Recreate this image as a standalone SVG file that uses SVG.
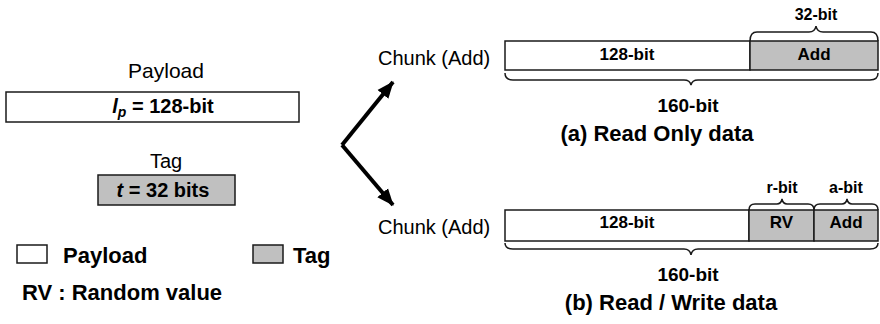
<svg xmlns="http://www.w3.org/2000/svg" width="880" height="324" viewBox="0 0 880 324">
<style>
text{font-family:"Liberation Sans",Arial,sans-serif;fill:#000}
.reg{font-size:20px}
.bx{font-size:17px;font-weight:bold}
.sm{font-size:16px;font-weight:bold}
.dim{font-size:19px;font-weight:bold}
.cap{font-size:22px;font-weight:bold}
.leg{font-size:22px;font-weight:bold}
.mid{text-anchor:middle}
.w{fill:#fff;stroke:#1a1a1a;stroke-width:1.5}
.g{fill:#c0c0c0;stroke:#1a1a1a;stroke-width:1.5}
.br{fill:none;stroke:#1a1a1a;stroke-width:1.5}
.arr{fill:none;stroke:#000;stroke-width:4}
</style>
<defs>
<marker id="ah" markerUnits="userSpaceOnUse" markerWidth="18" markerHeight="16" refX="16" refY="8" orient="auto">
<path d="M0,1 L17,8 L0,15 Z" fill="#000"/>
</marker>
</defs>

<g id="payload">
<text class="reg mid" x="166" y="78" style="font-size:21px">Payload</text>
<rect class="w" x="6" y="92" width="293" height="30"/>
<text class="mid" x="163" y="113" style="font-size:20px;font-weight:bold"><tspan font-style="italic">l</tspan><tspan font-style="italic" font-size="14" dy="4">p</tspan><tspan dy="-4"> = 128-bit</tspan></text>
</g>

<g id="tag">
<text class="reg mid" x="166" y="168">Tag</text>
<rect class="g" x="98" y="175" width="137" height="30"/>
<text class="mid" x="163" y="197" style="font-size:20px;font-weight:bold"><tspan font-style="italic">t</tspan> = 32 bits</text>
</g>

<g id="connectors">
<line class="arr" x1="342" y1="145" x2="393" y2="82" marker-end="url(#ah)"/>
<line class="arr" x1="342" y1="145" x2="393" y2="205" marker-end="url(#ah)"/>
</g>

<g id="chunk-a">
<text class="reg" x="378" y="65">Chunk (Add)</text>
<rect class="w" x="505" y="41" width="245" height="29"/>
<rect class="g" x="750" y="41" width="128" height="29"/>
<text class="bx mid" x="627" y="59.5">128-bit</text>
<text class="bx mid" x="814" y="59.5">Add</text>
<path class="br" d="M750,41 Q750,32 757,32 H809 Q815,32 816,26 Q817,32 823,32 H871 Q878,32 878,41"/>
<text class="sm mid" x="816" y="19.5">32-bit</text>
<path class="br" d="M505,73 Q505,80 513,80 H684 Q690,80 691,85 Q692,80 698,80 H870 Q878,80 878,73"/>
<text class="dim mid" x="688" y="112">160-bit</text>
<text class="cap mid" x="657" y="141">(a) Read Only data</text>
</g>

<g id="chunk-b">
<text class="reg" x="378" y="234">Chunk (Add)</text>
<rect class="w" x="505" y="210" width="244" height="31"/>
<rect class="g" x="749" y="210" width="65" height="31"/>
<rect class="g" x="814" y="210" width="64" height="31"/>
<text class="bx mid" x="627" y="228">128-bit</text>
<text class="bx mid" x="781.5" y="228">RV</text>
<text class="bx mid" x="846" y="228">Add</text>
<path class="br" d="M749,210 Q749,204 755,204 H777 Q781,204 782,199 Q783,204 787,204 H808 Q814,204 814,210"/>
<text class="sm mid" x="782" y="193">r-bit</text>
<path class="br" d="M814,210 Q814,204 820,204 H842 Q846,204 847,199 Q848,204 852,204 H872 Q878,204 878,210"/>
<text class="sm mid" x="846" y="193">a-bit</text>
<path class="br" d="M505,243 Q505,249 513,249 H684 Q690,249 691,255 Q692,249 698,249 H870 Q878,249 878,243"/>
<text class="dim mid" x="688" y="281">160-bit</text>
<text class="cap mid" x="671" y="310">(b) Read / Write data</text>
</g>

<g id="legend">
<rect class="w" x="17" y="245" width="30" height="18"/>
<text class="leg" x="63" y="263">Payload</text>
<rect class="g" x="253" y="245" width="30" height="18"/>
<text class="leg" x="293" y="263">Tag</text>
<text class="leg" x="22" y="300">RV : Random value</text>
</g>
</svg>
